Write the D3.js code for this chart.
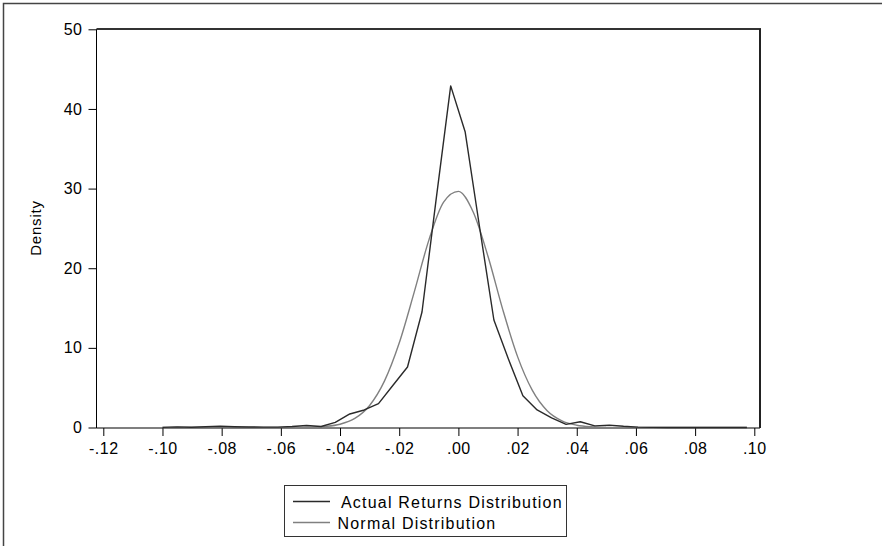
<!DOCTYPE html>
<html>
<head>
<meta charset="utf-8">
<script src="https://cdn.jsdelivr.net/npm/d3@7"></script>
<style>
  html, body { margin: 0; padding: 0; background: #fff; }
  svg { display: block; font-family: "Liberation Sans", Arial, sans-serif; }
</style>
</head>
<body>
<svg id="chart" width="882" height="546"></svg>
<script>
// actual returns density (kernel estimate)
const actualX = [-0.1000, -0.0951, -0.0903, -0.0854, -0.0805, -0.0757, -0.0708, -0.0659, -0.0610, -0.0562,
  -0.0513, -0.0464, -0.0416, -0.0367, -0.0318, -0.0270, -0.0221, -0.0172, -0.0123, -0.0075,
  -0.0026, 0.0023, 0.0071, 0.0120, 0.0169, 0.0218, 0.0266, 0.0315, 0.0364, 0.0412,
  0.0461, 0.0510, 0.0558, 0.0607, 0.0656, 0.0705, 0.0753, 0.0802, 0.0851, 0.0899, 0.0948, 0.0975];
const actualY = [0.02, 0.08, 0.03, 0.10, 0.15, 0.10, 0.06, 0.05, 0.05, 0.12,
  0.25, 0.12, 0.65, 1.7, 2.2, 3.0, 5.3, 7.6, 14.5, 28.7,
  42.9, 37.1, 25.3, 13.5, 8.6, 4.0, 2.2, 1.2, 0.4, 0.72,
  0.2, 0.3, 0.15, 0.05, 0.02, 0, 0, 0, 0, 0, 0, 0];

// normal density read at fixed points
const normalX = [-0.100, -0.090, -0.080, -0.070, -0.060, -0.055, -0.050, -0.045, -0.040, -0.035,
  -0.030, -0.025, -0.020, -0.015, -0.010, -0.005, 0.000, 0.005, 0.010, 0.015,
  0.020, 0.025, 0.030, 0.035, 0.040, 0.045, 0.050, 0.055, 0.060, 0.070, 0.080, 0.090, 0.0975];
const normalY = [0, 0, 0, 0, 0.002, 0.008, 0.035, 0.13, 0.41, 1.14,
  2.77, 5.82, 10.6, 16.9, 23.5, 28.3, 29.65, 27.05, 21.5, 14.8,
  8.9, 4.66, 2.11, 0.84, 0.29, 0.086, 0.022, 0.005, 0.001, 0, 0, 0, 0];

const xTicks = [-0.12, -0.10, -0.08, -0.06, -0.04, -0.02, 0.00, 0.02, 0.04, 0.06, 0.08, 0.10];
const yTicks = [0, 10, 20, 30, 40, 50];
const seriesNames = ["Actual Returns Distribution", "Normal Distribution"];
const seriesColors = ["#2a2a2a", "#808080"];

const plot = { left: 96.5, top: 29, right: 760, bottom: 428 };

const svg = d3.select("#chart");

// outer frame (runs off the right/bottom edge like the source)
svg.append("rect")
  .attr("x", 3.5).attr("y", 3.5)
  .attr("width", 1000).attr("height", 1000)
  .attr("fill", "none")
  .attr("stroke", "#444")
  .attr("stroke-width", 1.5);

const x = d3.scaleLinear().domain([-0.12, 0.10]).range([103.3, 754.3]);
const y = d3.scaleLinear().domain([0, 50]).range([427.5, 29.3]);

const fmt = d => {
  if (d === 0) return ".00";
  const s = d3.format(".2f")(Math.abs(d)).replace(/^0/, "");
  return (d < 0 ? "-" : "") + s;
};

// axes
const xAxis = svg.append("g")
  .attr("transform", `translate(0,${plot.bottom})`)
  .call(d3.axisBottom(x).tickValues(xTicks).tickFormat(fmt).tickSize(8).tickPadding(7));
const yAxis = svg.append("g")
  .attr("transform", `translate(${plot.left},0)`)
  .call(d3.axisLeft(y).tickValues(yTicks).tickSize(8).tickPadding(6));

[xAxis, yAxis].forEach(g => {
  g.select(".domain").remove();
  g.selectAll(".tick line").attr("stroke", "#000");
  g.selectAll(".tick text")
    .attr("fill", "#000")
    .style("font-size", "16px")
    .style("letter-spacing", "0.5px")
    .style("font-family", "Liberation Sans, Arial, sans-serif");
});

// plot frame: thin left/bottom, heavier top/right
svg.append("line")
  .attr("x1", plot.left).attr("x2", plot.left)
  .attr("y1", plot.top).attr("y2", plot.bottom)
  .attr("stroke", "#000").attr("stroke-width", 1);
svg.append("line")
  .attr("x1", plot.left).attr("x2", plot.right)
  .attr("y1", plot.bottom).attr("y2", plot.bottom)
  .attr("stroke", "#000").attr("stroke-width", 1.2);
svg.append("line")
  .attr("x1", plot.left).attr("x2", plot.right + 1)
  .attr("y1", plot.top).attr("y2", plot.top)
  .attr("stroke", "#333").attr("stroke-width", 2);
svg.append("line")
  .attr("x1", plot.right).attr("x2", plot.right)
  .attr("y1", plot.top).attr("y2", plot.bottom)
  .attr("stroke", "#222").attr("stroke-width", 2);

// series
const actual = actualX.map((v, i) => [v, actualY[i]]);
const normal = normalX.map((v, i) => [v, normalY[i]]);

svg.append("path")
  .datum(normal)
  .attr("fill", "none")
  .attr("stroke", seriesColors[1])
  .attr("stroke-width", 1.4)
  .attr("d", d3.line().x(d => x(d[0])).y(d => y(d[1])).curve(d3.curveMonotoneX));

svg.append("path")
  .datum(actual)
  .attr("fill", "none")
  .attr("stroke", seriesColors[0])
  .attr("stroke-width", 1.4)
  .attr("stroke-linejoin", "round")
  .attr("d", d3.line().x(d => x(d[0])).y(d => y(d[1])));

// y title
svg.append("text")
  .attr("transform", "translate(41,228) rotate(-90)")
  .attr("text-anchor", "middle")
  .style("font-size", "15px")
  .style("letter-spacing", "0.8px")
  .text("Density");

// legend
const legend = svg.append("g");
legend.append("rect")
  .attr("x", 284.5).attr("y", 485.5)
  .attr("width", 282).attr("height", 51)
  .attr("fill", "#fff")
  .attr("stroke", "#333")
  .attr("stroke-width", 1);

const legendRows = [
  { y: 501.5, textX: 341 },
  { y: 522.5, textX: 337.5 }
];
seriesNames.forEach((name, i) => {
  legend.append("line")
    .attr("x1", 293).attr("x2", 330)
    .attr("y1", legendRows[i].y).attr("y2", legendRows[i].y)
    .attr("stroke", seriesColors[i])
    .attr("stroke-width", 1.3);
  legend.append("text")
    .attr("x", legendRows[i].textX)
    .attr("y", legendRows[i].y + 6)
    .style("font-size", "16px")
    .style("letter-spacing", "1.2px")
    .text(name);
});
</script>
</body>
</html>
